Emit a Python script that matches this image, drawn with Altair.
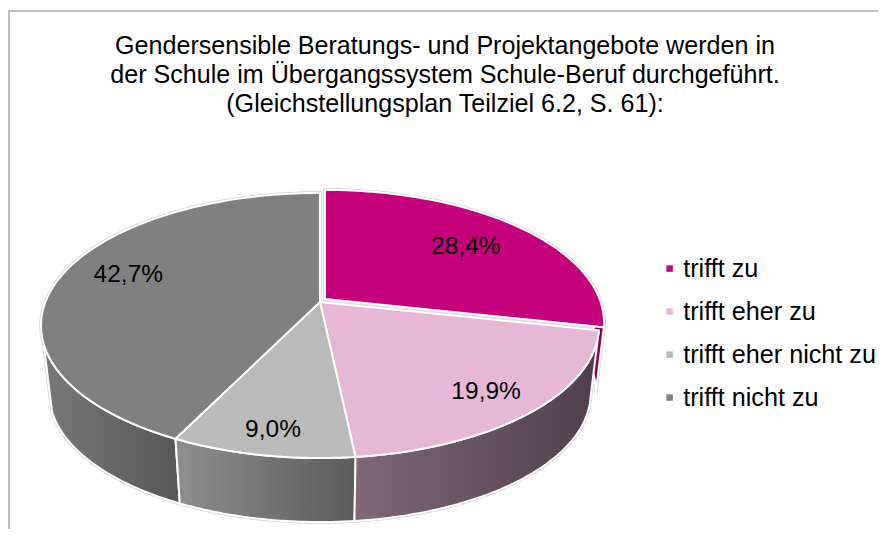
import numpy as np
import altair as alt

categories = ["trifft zu", "trifft eher zu", "trifft eher nicht zu", "trifft nicht zu"]
shares = [28.4, 19.9, 9.0, 42.7]
value_labels = ["28,4%", "19,9%", "9,0%", "42,7%"]
title_lines = [
    "Gendersensible Beratungs- und Projektangebote werden in",
    "der Schule im Übergangssystem Schule-Beruf durchgeführt.",
    "(Gleichstellungsplan Teilziel 6.2, S. 61):",
]
top_colors = ["#C4007A", "#E6B8D6", "#BABABA", "#808080"]

# geometry of the tilted disc, in view pixels
PAD_TOP = 120
OX, OY = 8, 8 + PAD_TOP
CX, CY = 320 - OX, 302 - OY
A, B, K = 274.6, 128.4, 0.177
DEPTH, SHRINK = 68.7, 0.97
EXPLODE = [(5, -3), (0, 0), (0, 0), (0, 0)]
W, H = 870, 521


def disc(theta_deg, r=1.0, off=(0, 0), low=False):
    t = np.radians(theta_deg)
    u, v = r * np.sin(t), -r * np.cos(t)
    s = SHRINK if low else 1.0
    d = 1 - K * v
    x = CX + off[0] + s * A * u / d
    y = CY + off[1] + s * B * v / d + (DEPTH if low else 0)
    return np.column_stack([x, y])


def feature(points, cat=None):
    ring = [[float(a), float(b)] for a, b in points]
    ring.append(ring[0])
    return {"type": "Feature", "properties": {"cat": cat},
            "geometry": {"type": "Polygon", "coordinates": [ring]}}


def wedge(t0, t1, off):
    arc = disc(np.linspace(t0, t1, 80), off=off)
    centre = disc(np.array([0.0]), r=0.0, off=off)
    return np.vstack([centre, arc])


def wall(t0, t1, off):
    ts = np.linspace(t0, t1, 60)
    return np.vstack([disc(ts, off=off), disc(ts[::-1], off=off, low=True)])


edges = np.concatenate([[0], np.cumsum(shares)]) * 3.6
proj = alt.Projection(type="identity", scale=1, translate=[0, 0])


def grad(c0, c1):
    return alt.Gradient(gradient="linear", x1=0, x2=1, y1=0, y2=0,
                        stops=[alt.GradientStop(color=c0, offset=0),
                               alt.GradientStop(color=c1, offset=1)])


walls = [
    (wall(88, edges[1], EXPLODE[0]), "#8C0058", "#8C0058"),
    (wall(edges[3], 252, EXPLODE[3]), "#787878", "#585858"),
    (wall(edges[2], edges[3], EXPLODE[2]), "#8E8E8E", "#5C5C5C"),
    (wall(edges[1], edges[2], EXPLODE[1]), "#80687A", "#4E3F4A"),
]

layers = []
halo = [feature(w[0]) for w in walls] + [
    feature(wedge(edges[i], edges[i + 1], EXPLODE[i])) for i in range(4)
]
layers.append(
    alt.Chart(alt.Data(values=halo))
    .mark_geoshape(fill="#d4d4d4", stroke="#d4d4d4", strokeWidth=3.5)
    .project(**proj.to_dict())
)
for pts, c0, c1 in walls:
    layers.append(
        alt.Chart(alt.Data(values=[feature(pts)]))
        .mark_geoshape(fill=grad(c0, c1), stroke="white", strokeWidth=2)
        .project(**proj.to_dict())
    )

tops = [feature(wedge(edges[i], edges[i + 1], EXPLODE[i]), categories[i]) for i in range(4)]
layers.append(
    alt.Chart(alt.Data(values=tops))
    .mark_geoshape(stroke="white", strokeWidth=2)
    .encode(
        color=alt.Color(
            "properties.cat:N",
            scale=alt.Scale(domain=categories, range=top_colors),
            legend=alt.Legend(
                title=None, orient="none", legendX=646, legendY=128,
                symbolType="square", symbolSize=42, symbolStrokeWidth=0, symbolOffset=3,
                labelFont="Liberation Sans", labelFontSize=25.2, labelColor="#000000",
                labelOffset=1, rowPadding=17, labelLimit=300,
            ),
        )
    )
    .project(**proj.to_dict())
)

label_r = [0.70, 0.80, 0.85, 0.75]
label_nudge = [(2, 0), (2, 5), (1, 2), (3, -6)]
mids = (edges[:-1] + edges[1:]) / 2
label_rows = []
for i, m in enumerate(mids):
    p = disc(np.array([m]), r=label_r[i], off=EXPLODE[i])[0]
    label_rows.append({"px": float(p[0]) + label_nudge[i][0],
                       "py": float(p[1]) + label_nudge[i][1],
                       "label": value_labels[i]})
layers.append(
    alt.Chart(alt.Data(values=label_rows))
    .mark_text(font="Liberation Sans", fontSize=24.5, color="#000000", align="center", baseline="middle")
    .encode(x=alt.X("px:Q", scale=None, axis=None), y=alt.Y("py:Q", scale=None, axis=None), text="label:N")
)

# chart frame: top and left lines only reach the window
frame_color = "#C0C0C0"
layers.append(
    alt.Chart(alt.Data(values=[{"a": 0}]))
    .mark_rule(color=frame_color, strokeWidth=2)
    .encode(x=alt.value(0), x2=alt.value(W), y=alt.value(3 - PAD_TOP))
)
layers.append(
    alt.Chart(alt.Data(values=[{"a": 0}]))
    .mark_rule(color=frame_color, strokeWidth=2)
    .encode(x=alt.value(1), y=alt.value(3 - PAD_TOP), y2=alt.value(H - PAD_TOP))
)

chart = (
    alt.layer(*layers)
    .properties(
        width=W,
        height=H - PAD_TOP,
        padding={"left": 0, "right": 0, "top": PAD_TOP, "bottom": 0},
        autosize=alt.AutoSizeParams(type="none"),
        background="white",
        title=alt.TitleParams(
            text=title_lines, anchor="middle", frame="group", font="Liberation Sans",
            fontSize=25.1, fontWeight="normal", color="#000000", lineHeight=29, offset=-107, dx=2,
        ),
    )
    .configure_view(stroke=None)
)
chart.save("out.html", embed_options={"renderer": "svg", "actions": False})
